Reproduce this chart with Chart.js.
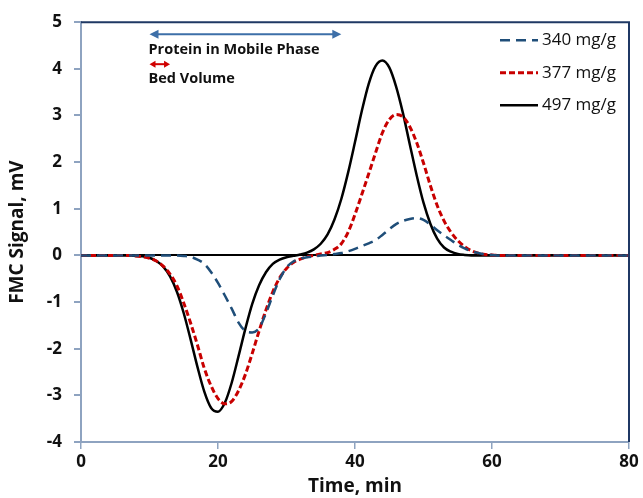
<!DOCTYPE html>
<html>
<head>
<meta charset="utf-8">
<script src="https://cdn.jsdelivr.net/npm/chart.js"></script>
<style>
  html, body { margin: 0; padding: 0; background: #fff; }
</style>
</head>
<body>
<canvas id="fmc" width="643" height="498"></canvas>
<script>
// elution time, min
const time = [0, 2, 4, 6, 7, 8, 9, 10, 11, 12, 13, 14, 15, 16, 17, 18, 19, 20, 21, 22, 23, 24, 25,
  26, 27, 28, 29, 30, 31, 32, 33, 34, 35, 36, 37, 38, 39, 40, 41, 42, 43, 44, 45, 46, 47, 48, 49,
  50, 51, 52, 53, 54, 55, 56, 57, 58, 59, 60, 61, 62, 64, 68, 72, 76, 80];

// FMC signal, mV, one array per protein load
const load340 = [0, 0, 0, 0, 0, 0, 0, 0, 0, 0, 0, 0, -0.01, -0.03, -0.09, -0.18, -0.36, -0.59, -0.86, -1.14, -1.44, -1.62, -1.65,
  -1.56, -1.24, -0.86, -0.51, -0.26, -0.13, -0.07, -0.04, -0.02, 0, 0.01, 0.03, 0.05, 0.09, 0.14, 0.20, 0.26, 0.33, 0.44, 0.56, 0.67, 0.74, 0.78, 0.80,
  0.76, 0.66, 0.54, 0.43, 0.33, 0.23, 0.15, 0.09, 0.05, 0.02, 0.01, 0, 0, 0, 0, 0, 0, 0];
const load377 = [0, 0, 0, 0, 0, -0.01, -0.03, -0.06, -0.12, -0.23, -0.40, -0.65, -1.02, -1.45, -1.92, -2.42, -2.80, -3.07, -3.18, -3.13, -2.90, -2.55, -2.10,
  -1.62, -1.17, -0.78, -0.48, -0.28, -0.15, -0.08, -0.03, 0, 0.03, 0.06, 0.13, 0.25, 0.50, 0.88, 1.31, 1.75, 2.20, 2.63, 2.91, 3.02, 2.97, 2.76, 2.42,
  1.98, 1.50, 1.07, 0.74, 0.50, 0.32, 0.19, 0.10, 0.05, 0.02, 0.01, 0, 0, 0, 0, 0, 0, 0];
const load497 = [0, 0, 0, 0, 0, -0.01, -0.02, -0.05, -0.12, -0.24, -0.45, -0.78, -1.24, -1.80, -2.39, -2.92, -3.27, -3.35, -3.16, -2.73, -2.16, -1.57, -1.04,
  -0.64, -0.36, -0.18, -0.09, -0.04, -0.01, 0.02, 0.06, 0.13, 0.25, 0.45, 0.77, 1.21, 1.78, 2.43, 3.10, 3.68, 4.06, 4.18, 4.03, 3.62, 3.05, 2.38, 1.72,
  1.13, 0.68, 0.36, 0.17, 0.08, 0.03, 0.01, 0, 0, 0, 0, 0, 0, 0, 0, 0, 0, 0];

const loadLabels = ['340 mg/g', '377 mg/g', '497 mg/g'];

// spans marked above the peaks (min)
const proteinSpan = [10, 38];
const bedSpan = [10, 13];

const AXIS = '#8ea3c0';
const FRAME = '#1f3864';
const FONT = "'Open Sans', sans-serif";

function points(vals) {
  return time.map((t, i) => ({ x: t, y: vals[i] }));
}

function arrow2(ctx, x1, x2, y, color, lw, head, half) {
  ctx.save();
  ctx.strokeStyle = color;
  ctx.fillStyle = color;
  ctx.lineWidth = lw;
  ctx.beginPath();
  ctx.moveTo(x1 + head - 1, y);
  ctx.lineTo(x2 - head + 1, y);
  ctx.stroke();
  ctx.beginPath();
  ctx.moveTo(x1, y);
  ctx.lineTo(x1 + head, y - half);
  ctx.lineTo(x1 + head, y + half);
  ctx.closePath();
  ctx.fill();
  ctx.beginPath();
  ctx.moveTo(x2, y);
  ctx.lineTo(x2 - head, y - half);
  ctx.lineTo(x2 - head, y + half);
  ctx.closePath();
  ctx.fill();
  ctx.restore();
}

const extras = {
  id: 'extras',
  afterDatasetsDraw(chart) {
    const { ctx, chartArea: a, scales: { x, y } } = chart;

    // dark frame on top and right
    ctx.save();
    ctx.strokeStyle = FRAME;
    ctx.lineWidth = 2;
    ctx.beginPath();
    ctx.moveTo(a.left, a.top);
    ctx.lineTo(a.right, a.top);
    ctx.lineTo(a.right, a.bottom);
    ctx.stroke();
    ctx.restore();

    // span arrows with their captions
    arrow2(ctx, x.getPixelForValue(proteinSpan[0]), x.getPixelForValue(proteinSpan[1]),
      y.getPixelForValue(4.74), '#3d6fa8', 2, 9, 4.5);
    arrow2(ctx, x.getPixelForValue(bedSpan[0]), x.getPixelForValue(bedSpan[1]),
      y.getPixelForValue(4.1), '#d00000', 2, 6, 3.5);
    ctx.save();
    ctx.fillStyle = '#111';
    ctx.font = 'bold 14.5px ' + FONT;
    ctx.textBaseline = 'middle';
    ctx.textAlign = 'left';
    ctx.fillText('Protein in Mobile Phase', x.getPixelForValue(proteinSpan[0]) - 1, y.getPixelForValue(4.41));
    ctx.fillText('Bed Volume', x.getPixelForValue(bedSpan[0]) - 1, y.getPixelForValue(3.79));
    ctx.restore();

    // legend inside the plot, top right
    ctx.save();
    ctx.font = '17px ' + FONT;
    ctx.textBaseline = 'middle';
    ctx.textAlign = 'left';
    chart.data.datasets.forEach((ds, i) => {
      const ly = a.top + 18 + i * 32.5;
      const x0 = a.right - 129, x1 = a.right - 91;
      ctx.strokeStyle = ds.borderColor;
      ctx.lineWidth = ds.borderWidth;
      ctx.setLineDash(ds.borderDash || []);
      ctx.beginPath();
      ctx.moveTo(x0, ly);
      ctx.lineTo(x1, ly);
      ctx.stroke();
      ctx.setLineDash([]);
      ctx.fillStyle = '#111';
      ctx.fillText(ds.label, a.right - 87, ly);
    });
    ctx.restore();
  }
};

new Chart(document.getElementById('fmc'), {
  type: 'line',
  data: {
    datasets: [
      {
        label: loadLabels[0],
        data: points(load340),
        borderColor: '#1f4e79',
        borderWidth: 2.5,
        borderDash: [10, 6],
      },
      {
        label: loadLabels[1],
        data: points(load377),
        borderColor: '#c80000',
        borderWidth: 3,
        borderDash: [6, 3],
      },
      {
        label: loadLabels[2],
        data: points(load497),
        borderColor: '#000000',
        borderWidth: 2.5,
      },
    ],
  },
  options: {
    responsive: false,
    animation: false,
    devicePixelRatio: 1,
    layout: { padding: { left: 0, top: 20, right: 14, bottom: 0 } },
    elements: {
      point: { radius: 0 },
      line: { tension: 0.4, cubicInterpolationMode: 'monotone' },
    },
    plugins: {
      legend: { display: false },
      tooltip: { enabled: false },
    },
    scales: {
      x: {
        type: 'linear',
        min: 0,
        max: 80,
        afterFit: (s) => { s.height = 56; },
        ticks: { stepSize: 20, color: '#111', padding: 3, font: { family: FONT, size: 17, weight: 'bold' } },
        grid: { drawOnChartArea: false, tickLength: 7, color: AXIS, lineWidth: 1.5 },
        border: { color: AXIS, width: 2 },
        title: { display: true, text: 'Time, min', color: '#111', padding: { top: 0, bottom: 0 },
          font: { family: FONT, size: 19, weight: 'bold' } },
      },
      y: {
        min: -4,
        max: 5,
        afterFit: (s) => { s.width = 81; },
        ticks: { stepSize: 1, color: '#111', padding: 12, font: { family: FONT, size: 17, weight: 'bold' } },
        grid: {
          color: (c) => (c.tick && c.tick.value === 0 ? '#000' : 'rgba(0,0,0,0)'),
          lineWidth: 2,
          tickColor: AXIS,
          tickLength: 7,
        },
        border: { color: AXIS, width: 2 },
        title: { display: true, text: 'FMC Signal, mV', color: '#111', padding: { top: 6, bottom: 0 },
          font: { family: FONT, size: 19, weight: 'bold' } },
      },
    },
  },
  plugins: [extras],
});
</script>
</body>
</html>
